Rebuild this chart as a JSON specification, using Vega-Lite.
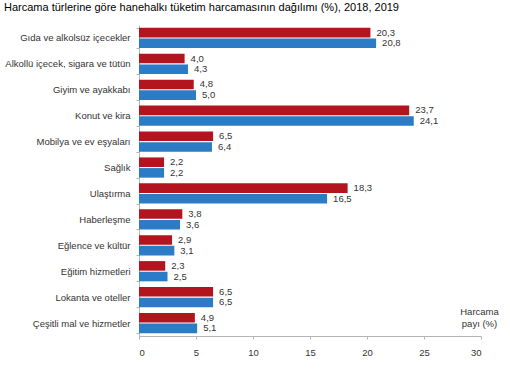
{
  "$schema": "https://vega.github.io/schema/vega-lite/v6.json",
  "autosize": {"type": "none"},
  "width": 342,
  "height": 311,
  "padding": {"left": 139, "top": 25, "right": 29, "bottom": 41},
  "background": "white",
  "title": {
    "text": "Harcama türlerine göre hanehalkı tüketim harcamasının dağılımı (%), 2018, 2019",
    "anchor": "start",
    "frame": "group",
    "dx": -135,
    "offset": 7,
    "font": "Liberation Sans",
    "fontSize": 11,
    "fontWeight": "normal",
    "color": "#000000"
  },
  "config": {
    "locale": {"number": {"decimal": ",", "thousands": ".", "grouping": [3], "currency": ["", " TL"]}},
    "view": {"stroke": null},
    "font": "Liberation Sans"
  },
  "data": {
    "values": [
      {"kategori": "Gıda ve alkolsüz içecekler", "yil": "2018", "pay": 20.3},
      {"kategori": "Gıda ve alkolsüz içecekler", "yil": "2019", "pay": 20.8},
      {"kategori": "Alkollü içecek, sigara ve tütün", "yil": "2018", "pay": 4.0},
      {"kategori": "Alkollü içecek, sigara ve tütün", "yil": "2019", "pay": 4.3},
      {"kategori": "Giyim ve ayakkabı", "yil": "2018", "pay": 4.8},
      {"kategori": "Giyim ve ayakkabı", "yil": "2019", "pay": 5.0},
      {"kategori": "Konut ve kira", "yil": "2018", "pay": 23.7},
      {"kategori": "Konut ve kira", "yil": "2019", "pay": 24.1},
      {"kategori": "Mobilya ve ev eşyaları", "yil": "2018", "pay": 6.5},
      {"kategori": "Mobilya ve ev eşyaları", "yil": "2019", "pay": 6.4},
      {"kategori": "Sağlık", "yil": "2018", "pay": 2.2},
      {"kategori": "Sağlık", "yil": "2019", "pay": 2.2},
      {"kategori": "Ulaştırma", "yil": "2018", "pay": 18.3},
      {"kategori": "Ulaştırma", "yil": "2019", "pay": 16.5},
      {"kategori": "Haberleşme", "yil": "2018", "pay": 3.8},
      {"kategori": "Haberleşme", "yil": "2019", "pay": 3.6},
      {"kategori": "Eğlence ve kültür", "yil": "2018", "pay": 2.9},
      {"kategori": "Eğlence ve kültür", "yil": "2019", "pay": 3.1},
      {"kategori": "Eğitim hizmetleri", "yil": "2018", "pay": 2.3},
      {"kategori": "Eğitim hizmetleri", "yil": "2019", "pay": 2.5},
      {"kategori": "Lokanta ve oteller", "yil": "2018", "pay": 6.5},
      {"kategori": "Lokanta ve oteller", "yil": "2019", "pay": 6.5},
      {"kategori": "Çeşitli mal ve hizmetler", "yil": "2018", "pay": 4.9},
      {"kategori": "Çeşitli mal ve hizmetler", "yil": "2019", "pay": 5.1}
    ]
  },
  "encoding": {
    "y": {
      "field": "kategori",
      "type": "nominal",
      "sort": null,
      "scale": {"paddingInner": 0.22, "paddingOuter": 0.11},
      "axis": {
        "title": null,
        "domain": true,
        "domainColor": "#b5b5b5",
        "ticks": true,
        "tickBand": "extent",
        "tickSize": 3,
        "tickColor": "#b5b5b5",
        "labelPadding": 6,
        "labelFontSize": 9.5,
        "labelColor": "#333333",
        "labelLimit": 200
      }
    },
    "yOffset": {"field": "yil", "type": "nominal", "scale": {"paddingInner": 0.1}},
    "x": {
      "field": "pay",
      "type": "quantitative",
      "scale": {"domain": [0, 30]},
      "axis": {
        "values": [0, 5, 10, 15, 20, 25, 30],
        "grid": false,
        "domainColor": "#b5b5b5",
        "tickColor": "#b5b5b5",
        "tickSize": 3,
        "labelPadding": 8,
        "labelFontSize": 9.5,
        "labelColor": "#333333",
        "title": ["Harcama", "payı  (%)"],
        "titleX": 340,
        "titleY": -30,
        "titleAlign": "center",
        "titleBaseline": "top",
        "titleFontSize": 9.5,
        "titleFontWeight": "normal",
        "titleColor": "#333333",
        "titleLineHeight": 12
      }
    }
  },
  "layer": [
    {
      "mark": {"type": "bar"},
      "encoding": {
        "color": {
          "field": "yil",
          "type": "nominal",
          "scale": {"domain": ["2018", "2019"], "range": ["#b3141d", "#2b7bc6"]},
          "legend": null
        }
      }
    },
    {
      "mark": {"type": "text", "align": "left", "baseline": "middle", "dx": 6, "fontSize": 9.5, "color": "#333333"},
      "encoding": {
        "text": {"field": "pay", "type": "quantitative", "format": ".1f"}
      }
    }
  ]
}
